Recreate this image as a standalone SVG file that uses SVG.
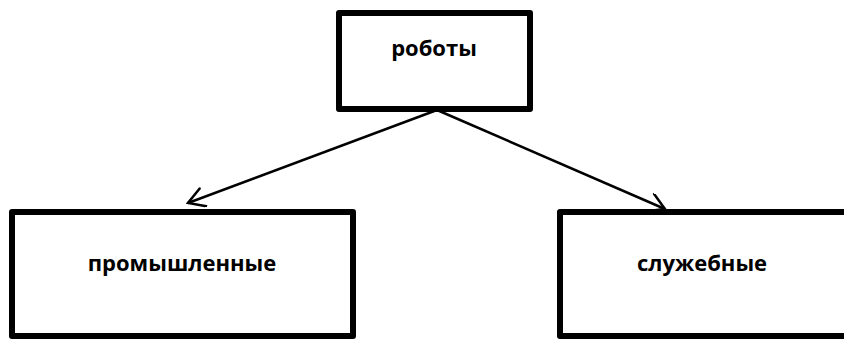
<svg xmlns="http://www.w3.org/2000/svg" width="844" height="339" viewBox="0 0 844 339">
  <style>
    .box { fill: #ffffff; stroke: #000000; stroke-width: 6; stroke-linejoin: round; }
    .label { font-family: "Open Sans", "Noto Sans", "DejaVu Sans", sans-serif; font-weight: bold; font-size: 22px; fill: #000000; text-anchor: middle; }
    .link { fill: none; stroke: #000000; stroke-width: 2.5; marker-end: url(#open-arrow); }
  </style>
  <defs>
    <marker id="open-arrow" markerUnits="userSpaceOnUse" markerWidth="24" markerHeight="24" refX="19" refY="10" orient="auto">
      <path d="M3,0.5 L19,10 L3,19.5" fill="none" stroke="#000000" stroke-width="2.5" stroke-linecap="round" stroke-linejoin="miter"/>
    </marker>
  </defs>
  <rect width="844" height="339" fill="#ffffff"/>

  <g id="connectors">
    <line class="link" x1="437" y1="110" x2="188" y2="203"/>
    <line class="link" x1="437" y1="110" x2="665" y2="209"/>
  </g>

  <g id="node-robots">
    <rect class="box" x="339" y="13" width="191" height="96"/>
    <text class="label" x="434" y="56">роботы</text>
  </g>

  <g id="node-industrial">
    <rect class="box" x="12" y="212" width="341" height="124"/>
    <text class="label" x="182" y="271">промышленные</text>
  </g>

  <!-- this box runs past the right edge of the canvas -->
  <g id="node-service">
    <rect class="box" x="560" y="212" width="340" height="124"/>
    <text class="label" x="702" y="271">служебные</text>
  </g>
</svg>
